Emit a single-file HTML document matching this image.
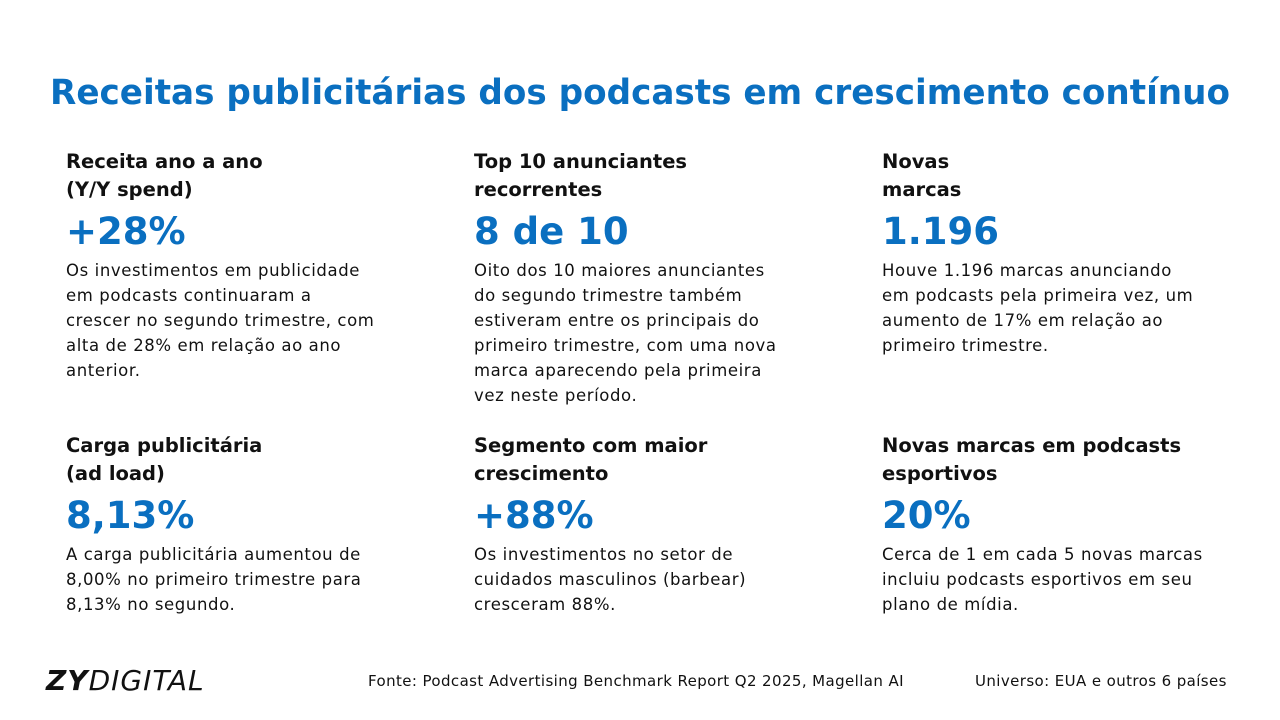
<!DOCTYPE html>
<html><head><meta charset="utf-8"><style>
body{margin:0;width:1280px;height:720px;background:#fff;position:relative;overflow:hidden;font-family:"DejaVu Sans","Liberation Sans",sans-serif;color:#111}
.c{position:absolute;width:360px}
.h{font-weight:bold;font-size:19.5px;line-height:28px;color:#111}
.n{font-weight:bold;font-size:37px;line-height:44px;color:#0a6fc0;margin-top:6px;letter-spacing:0}
.b{font-size:16.5px;line-height:25px;margin-top:4px;white-space:nowrap;letter-spacing:0.6px}
.f{position:absolute;font-size:15px;top:672px;color:#111;white-space:nowrap;letter-spacing:0.4px}
</style></head><body>
<svg width="1280" height="130" style="position:absolute;left:0;top:0">
<text x="50" y="104" textLength="1180" lengthAdjust="spacingAndGlyphs" font-family="DejaVu Sans, sans-serif" font-weight="bold" font-size="35" fill="#0a6fc0">Receitas publicitárias dos podcasts em crescimento contínuo</text>
</svg>
<div class="c" style="left:66px;top:148px"><div class="h">Receita ano a ano<br>(Y/Y spend)</div><div class="n">+28%</div><div class="b">Os investimentos em publicidade<br>em podcasts continuaram a<br>crescer no segundo trimestre, com<br>alta de 28% em relação ao ano<br>anterior.</div></div>
<div class="c" style="left:474px;top:148px"><div class="h">Top 10 anunciantes<br>recorrentes</div><div class="n">8 de 10</div><div class="b">Oito dos 10 maiores anunciantes<br>do segundo trimestre também<br>estiveram entre os principais do<br>primeiro trimestre, com uma nova<br>marca aparecendo pela primeira<br>vez neste período.</div></div>
<div class="c" style="left:882px;top:148px"><div class="h">Novas<br>marcas</div><div class="n">1.196</div><div class="b">Houve 1.196 marcas anunciando<br>em podcasts pela primeira vez, um<br>aumento de 17% em relação ao<br>primeiro trimestre.</div></div>
<div class="c" style="left:66px;top:432px"><div class="h">Carga publicitária<br>(ad load)</div><div class="n">8,13%</div><div class="b">A carga publicitária aumentou de<br>8,00% no primeiro trimestre para<br>8,13% no segundo.</div></div>
<div class="c" style="left:474px;top:432px"><div class="h">Segmento com maior<br>crescimento</div><div class="n">+88%</div><div class="b">Os investimentos no setor de<br>cuidados masculinos (barbear)<br>cresceram 88%.</div></div>
<div class="c" style="left:882px;top:432px"><div class="h">Novas marcas em podcasts<br>esportivos</div><div class="n">20%</div><div class="b">Cerca de 1 em cada 5 novas marcas<br>incluiu podcasts esportivos em seu<br>plano de mídia.</div></div>
<div style="position:absolute;left:46px;top:664px;font-size:28px;font-style:italic;white-space:nowrap;letter-spacing:1px"><b style="font-weight:900">ZY</b><span style="font-weight:200">DIGITAL</span></div>
<div class="f" style="left:368px">Fonte: Podcast Advertising Benchmark Report Q2 2025, Magellan AI</div>
<div class="f" style="left:975px">Universo: EUA e outros 6 países</div>
</body></html>
